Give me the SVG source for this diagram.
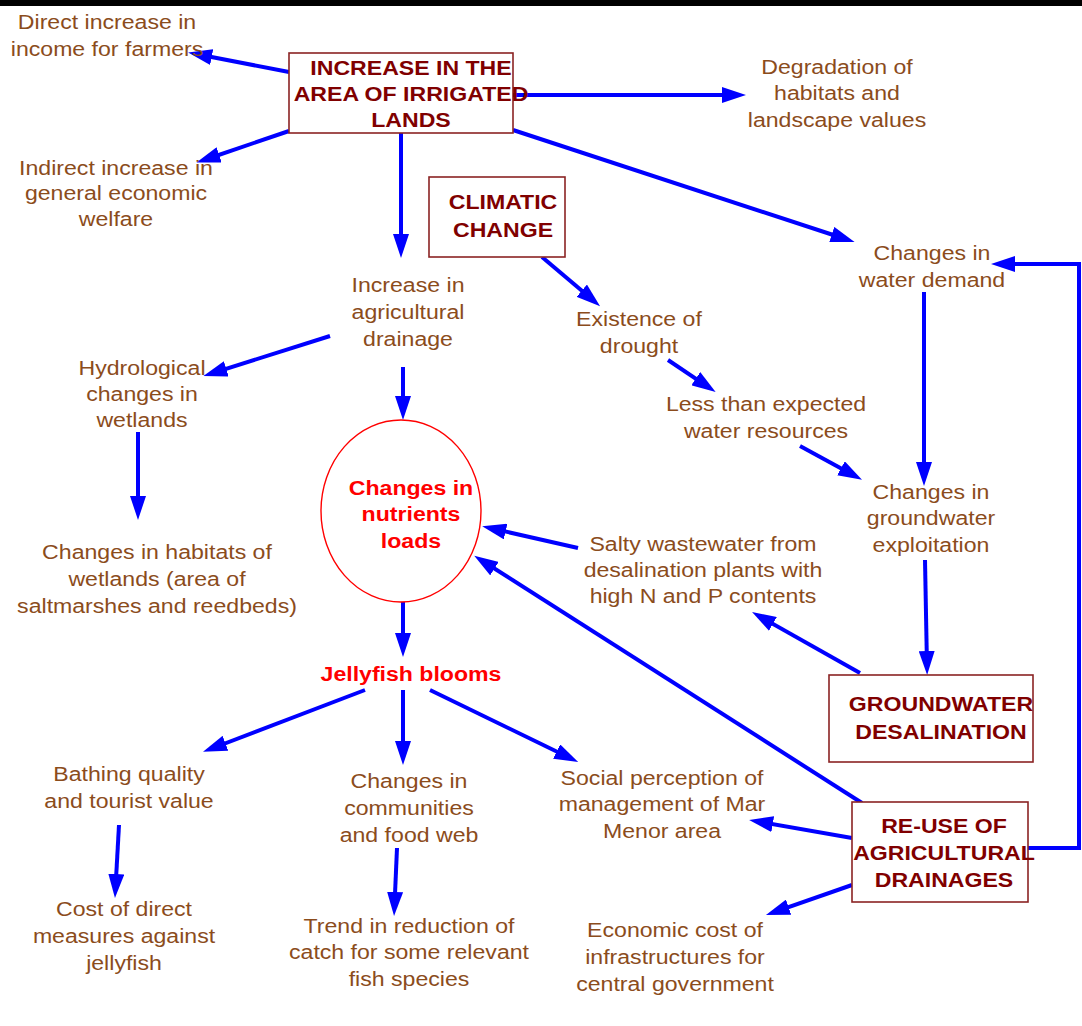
<svg xmlns="http://www.w3.org/2000/svg" width="1082" height="1026" viewBox="0 0 1082 1026">
  <style>
    text { font-family: "Liberation Sans", Arial, sans-serif; font-size: 21px; text-anchor: middle; }
    .t { fill: #8b4c1c; }
    .b { fill: #800000; font-weight: bold; }
    .r { fill: #ff0000; font-weight: bold; }
    .box { fill: #ffffff; stroke: #8b2323; stroke-width: 1.6; }
    .ell { fill: #ffffff; stroke: #ff0000; stroke-width: 1.4; }
    .c { fill: none; stroke: #0000ff; stroke-width: 4; marker-end: url(#head); }
  </style>
  <defs>
    <marker id="head" viewBox="0 0 12 8" markerWidth="6" markerHeight="4" refX="8" refY="4" orient="auto">
      <path d="M0,0 L12,4 L0,8 z" fill="#0000ff"/>
    </marker>
  </defs>

  <rect x="0" y="0" width="1082" height="1026" fill="#ffffff"/>
  <rect x="0" y="0" width="1082" height="6" fill="#000000"/>

  <!-- connectors -->
  <g id="connectors">
    <line class="c" x1="289" y1="72" x2="196" y2="54"/>
    <line class="c" x1="289" y1="131" x2="204" y2="160"/>
    <line class="c" x1="510" y1="95" x2="738" y2="95"/>
    <line class="c" x1="513" y1="130" x2="847" y2="239.5"/>
    <line class="c" x1="401" y1="133" x2="401" y2="250"/>
    <line class="c" x1="542" y1="257" x2="594" y2="301"/>
    <line class="c" x1="330" y1="336" x2="211" y2="373.6"/>
    <line class="c" x1="403" y1="367" x2="403" y2="412"/>
    <line class="c" x1="668" y1="360" x2="709" y2="387.6"/>
    <line class="c" x1="138" y1="432" x2="138" y2="512"/>
    <line class="c" x1="924" y1="292" x2="924" y2="478"/>
    <line class="c" x1="800" y1="446" x2="855" y2="476"/>
    <line class="c" x1="578" y1="548" x2="490" y2="528"/>
    <line class="c" x1="862" y1="803" x2="481" y2="560"/>
    <line class="c" x1="860" y1="673" x2="759" y2="616"/>
    <line class="c" x1="925" y1="560" x2="927" y2="667"/>
    <line class="c" x1="403" y1="602" x2="403" y2="649"/>
    <line class="c" x1="365" y1="690" x2="210.5" y2="749"/>
    <line class="c" x1="403" y1="690" x2="403" y2="757"/>
    <line class="c" x1="430" y1="690" x2="571" y2="758.5"/>
    <line class="c" x1="119" y1="825" x2="115.4" y2="890"/>
    <line class="c" x1="397" y1="848" x2="394.4" y2="908"/>
    <line class="c" x1="852" y1="838" x2="757" y2="821.4"/>
    <line class="c" x1="852" y1="885" x2="773.5" y2="912.4"/>
    <path class="c" d="M1028,848 H1079 V264 H999"/>
  </g>

  <!-- source nodes (boxes) -->
  <g id="irrigated-lands">
    <rect class="box" x="289" y="53" width="224" height="80"/>
    <text class="b" transform="translate(411,75) scale(1.1,1)"><tspan x="0">INCREASE IN THE</tspan><tspan x="0" dy="26">AREA OF IRRIGATED</tspan><tspan x="0" dy="26">LANDS</tspan></text>
  </g>
  <g id="climatic-change">
    <rect class="box" x="429" y="177" width="136" height="80"/>
    <text class="b" transform="translate(503,209) scale(1.1,1)"><tspan x="0">CLIMATIC</tspan><tspan x="0" dy="28">CHANGE</tspan></text>
  </g>
  <g id="groundwater-desalination">
    <rect class="box" x="829" y="675" width="204" height="87"/>
    <text class="b" transform="translate(941,711) scale(1.1,1)"><tspan x="0">GROUNDWATER</tspan><tspan x="0" dy="28">DESALINATION</tspan></text>
  </g>
  <g id="reuse-drainages">
    <rect class="box" x="852" y="802" width="176" height="100"/>
    <text class="b" transform="translate(944,833) scale(1.1,1)"><tspan x="0">RE-USE OF</tspan><tspan x="0" dy="27">AGRICULTURAL</tspan><tspan x="0" dy="27">DRAINAGES</tspan></text>
  </g>

  <!-- central nodes -->
  <g id="nutrients-loads">
    <ellipse class="ell" cx="401" cy="511" rx="80" ry="91"/>
    <text class="r" transform="translate(411,495) scale(1.1,1)"><tspan x="0">Changes in</tspan><tspan x="0" dy="26.5">nutrients</tspan><tspan x="0" dy="26.5">loads</tspan></text>
  </g>
  <g id="jellyfish-blooms">
    <text class="r" transform="translate(411,681) scale(1.1,1)">Jellyfish blooms</text>
  </g>

  <!-- effect nodes -->
  <g id="income-farmers">
    <text class="t" transform="translate(107,29) scale(1.1,1)"><tspan x="0">Direct increase in</tspan><tspan x="0" dy="27.5">income for farmers</tspan></text>
  </g>
  <g id="economic-welfare">
    <text class="t" transform="translate(116,175) scale(1.1,1)"><tspan x="0">Indirect increase in</tspan><tspan x="0" dy="25.5">general economic</tspan><tspan x="0" dy="25.5">welfare</tspan></text>
  </g>
  <g id="habitat-degradation">
    <text class="t" transform="translate(837,74) scale(1.1,1)"><tspan x="0">Degradation of</tspan><tspan x="0" dy="26.5">habitats and</tspan><tspan x="0" dy="26.5">landscape values</tspan></text>
  </g>
  <g id="agricultural-drainage">
    <text class="t" transform="translate(408,292) scale(1.1,1)"><tspan x="0">Increase in</tspan><tspan x="0" dy="27">agricultural</tspan><tspan x="0" dy="27">drainage</tspan></text>
  </g>
  <g id="drought">
    <text class="t" transform="translate(639,326) scale(1.1,1)"><tspan x="0">Existence of</tspan><tspan x="0" dy="27">drought</tspan></text>
  </g>
  <g id="water-demand">
    <text class="t" transform="translate(932,260) scale(1.1,1)"><tspan x="0">Changes in</tspan><tspan x="0" dy="27">water demand</tspan></text>
  </g>
  <g id="hydrological-changes">
    <text class="t" transform="translate(142,375) scale(1.1,1)"><tspan x="0">Hydrological</tspan><tspan x="0" dy="26">changes in</tspan><tspan x="0" dy="26">wetlands</tspan></text>
  </g>
  <g id="water-resources">
    <text class="t" transform="translate(766,411) scale(1.1,1)"><tspan x="0">Less than expected</tspan><tspan x="0" dy="27">water resources</tspan></text>
  </g>
  <g id="groundwater-exploitation">
    <text class="t" transform="translate(931,499) scale(1.1,1)"><tspan x="0">Changes in</tspan><tspan x="0" dy="26.5">groundwater</tspan><tspan x="0" dy="26.5">exploitation</tspan></text>
  </g>
  <g id="wetland-habitats">
    <text class="t" transform="translate(157,559) scale(1.1,1)"><tspan x="0">Changes in habitats of</tspan><tspan x="0" dy="27">wetlands (area of</tspan><tspan x="0" dy="27">saltmarshes and reedbeds)</tspan></text>
  </g>
  <g id="salty-wastewater">
    <text class="t" transform="translate(703,551) scale(1.1,1)"><tspan x="0">Salty wastewater from</tspan><tspan x="0" dy="26">desalination plants with</tspan><tspan x="0" dy="26">high N and P contents</tspan></text>
  </g>
  <g id="bathing-quality">
    <text class="t" transform="translate(129,781) scale(1.1,1)"><tspan x="0">Bathing quality</tspan><tspan x="0" dy="27">and tourist value</tspan></text>
  </g>
  <g id="communities-food-web">
    <text class="t" transform="translate(409,788) scale(1.1,1)"><tspan x="0">Changes in</tspan><tspan x="0" dy="27">communities</tspan><tspan x="0" dy="27">and food web</tspan></text>
  </g>
  <g id="social-perception">
    <text class="t" transform="translate(662,785) scale(1.1,1)"><tspan x="0">Social perception of</tspan><tspan x="0" dy="26.5">management of Mar</tspan><tspan x="0" dy="26.5">Menor area</tspan></text>
  </g>
  <g id="jellyfish-measures">
    <text class="t" transform="translate(124,916) scale(1.1,1)"><tspan x="0">Cost of direct</tspan><tspan x="0" dy="27">measures against</tspan><tspan x="0" dy="27">jellyfish</tspan></text>
  </g>
  <g id="catch-reduction">
    <text class="t" transform="translate(409,933) scale(1.1,1)"><tspan x="0">Trend in reduction of</tspan><tspan x="0" dy="26.5">catch for some relevant</tspan><tspan x="0" dy="26.5">fish species</tspan></text>
  </g>
  <g id="infrastructure-cost">
    <text class="t" transform="translate(675,937) scale(1.1,1)"><tspan x="0">Economic cost of</tspan><tspan x="0" dy="27">infrastructures for</tspan><tspan x="0" dy="27">central government</tspan></text>
  </g>
</svg>
